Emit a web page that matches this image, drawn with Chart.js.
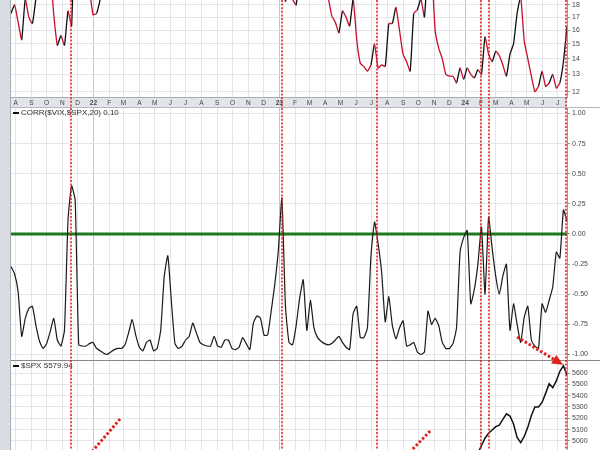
<!DOCTYPE html>
<html>
<head>
<meta charset="utf-8">
<script src="https://cdn.jsdelivr.net/npm/chart.js@4.4.1/dist/chart.umd.min.js"></script>
<style>
  html, body { margin: 0; padding: 0; background: #fff; }
  #wrap { position: relative; width: 600px; height: 450px; overflow: hidden; background: #fff; }
  #wrap canvas { position: absolute; left: 0; }
  #strip { position: absolute; left: 0; top: 0; width: 10px; height: 450px; background: #d9dce2; border-right: 1px solid #a9adb5; }
  .sep { position: absolute; left: 11px; width: 589px; height: 1px; }
</style>
</head>
<body>
<div id="wrap">
  <canvas id="vixChart" width="600" height="107" style="top:0"></canvas>
  <canvas id="corrChart" width="600" height="253" style="top:107px"></canvas>
  <canvas id="spxChart" width="600" height="90" style="top:360px"></canvas>
  <div id="strip"></div>
  <div class="sep" style="top:107px;background:#b4b8c0"></div>
  <div class="sep" style="top:360px;background:#8a8a8a"></div>
  <canvas id="overlay" width="600" height="450" style="top:0;pointer-events:none"></canvas>
</div>
<script>
// weekly closes, first week = 2021-07-23, last = 2024-07-19
const startDate = Date.UTC(2021, 6, 23);
const monthLabels = ['A','S','O','N','D','22','F','M','A','M','J','J','A','S','O','N','D','23',
                     'F','M','A','M','J','J','A','S','O','N','D','24','F','M','A','M','J','J'];

const vix = [
  17.3, 18.0, 16.6, 15.3, 18.5, 17.0, 16.5, 18.6, 20.9, 18.5,
  19.5, 21.0, 17.2, 14.9, 15.6, 14.9, 17.5, 16.3, 28.6, 30.7,
  21.0, 21.6, 19.5, 17.2, 17.3, 18.5, 28.9, 27.7, 23.2, 27.4,
  27.8, 27.6, 32.0, 30.8, 23.9, 20.8, 19.6, 21.2, 22.7, 28.2,
  33.4, 30.2, 28.9, 29.4, 25.7, 24.8, 27.8, 31.1, 27.2, 26.7,
  24.6, 24.2, 23.0, 21.3, 21.2, 19.5, 20.6, 25.6, 25.5, 22.8,
  26.3, 29.9, 31.6, 31.4, 32.0, 29.7, 25.8, 24.6, 22.5, 23.1,
  20.5, 19.1, 22.8, 22.6, 20.9, 21.7, 21.1, 18.3, 19.9, 18.5,
  18.0, 20.5, 20.0, 21.7, 19.0, 24.8, 25.5, 21.7, 19.0, 18.6,
  17.1, 16.6, 15.8, 17.5, 17.0, 16.3, 18.5, 15.3, 13.7, 13.5,
  13.2, 13.6, 15.0, 13.4, 13.6, 13.5, 16.5, 16.5, 17.8, 16.0,
  14.3, 13.8, 13.2, 17.3, 17.6, 18.5, 17.0, 21.7, 21.3, 16.0,
  14.7, 14.0, 13.0, 12.9, 12.9, 12.5, 13.4, 12.7, 13.4, 13.0,
  12.8, 13.3, 13.0, 15.5, 14.3, 13.8, 14.5, 14.2, 13.6, 12.9,
  14.3, 15.0, 17.3, 18.7, 15.2, 14.0, 12.9, 12.0, 12.3, 13.2,
  12.3, 12.5, 13.0, 12.2, 12.5, 13.8, 16.3
];

const corr = [
  -0.27, -0.33, -0.48, -0.85, -0.70, -0.62, -0.60, -0.76, -0.89, -0.95,
  -0.91, -0.81, -0.70, -0.88, -0.93, -0.80, 0.12, 0.40, 0.28, -0.92,
  -0.93, -0.93, -0.91, -0.90, -0.95, -0.97, -0.99, -1.00, -0.98, -0.96,
  -0.95, -0.95, -0.92, -0.82, -0.71, -0.84, -0.94, -0.97, -0.90, -0.88,
  -0.97, -0.95, -0.80, -0.35, -0.18, -0.56, -0.91, -0.95, -0.93, -0.88,
  -0.85, -0.74, -0.82, -0.90, -0.92, -0.93, -0.93, -0.85, -0.93, -0.94,
  -0.88, -0.88, -0.95, -0.96, -0.94, -0.86, -0.91, -0.96, -0.74, -0.68,
  -0.70, -0.84, -0.84, -0.64, -0.42, -0.14, 0.30, -0.60, -0.90, -0.92,
  -0.76, -0.53, -0.38, -0.80, -0.55, -0.78, -0.86, -0.89, -0.91, -0.92,
  -0.91, -0.88, -0.85, -0.90, -0.94, -0.96, -0.66, -0.60, -0.86, -0.86,
  -0.78, -0.18, 0.10, -0.08, -0.32, -0.73, -0.52, -0.76, -0.87, -0.78,
  -0.72, -0.93, -0.92, -0.90, -0.98, -1.00, -0.98, -0.64, -0.75, -0.70,
  -0.76, -0.90, -0.95, -0.95, -0.91, -0.78, -0.15, -0.03, 0.03, -0.58,
  -0.46, -0.25, 0.06, -0.50, 0.14, -0.12, -0.35, -0.50, -0.35, -0.25,
  -0.80, -0.58, -0.75, -0.90, -0.69, -0.60, -0.88, -0.93, -0.95, -0.58,
  -0.65, -0.55, -0.44, -0.15, -0.20, 0.20, 0.10
];

const spx = [
  4412, 4395, 4437, 4468, 4442, 4509, 4535, 4459, 4433, 4455, 4357, 4391,
  4471, 4545, 4605, 4697, 4682, 4698, 4595, 4538, 4712, 4620, 4726, 4766,
  4677, 4663, 4398, 4432, 4500, 4419, 4349, 4385, 4329, 4204, 4463, 4543,
  4546, 4488, 4393, 4272, 4132, 4123, 4024, 3901, 4158, 4109, 3901, 3675,
  3912, 3825, 3899, 3863, 3962, 4130, 4145, 4280, 4228, 4058, 3924, 4067,
  3873, 3693, 3586, 3640, 3583, 3753, 3901, 3771, 3993, 3965, 4026, 4072,
  3934, 3852, 3845, 3840,
  3895, 3999, 3973, 4071, 4136, 4090, 4079, 3970, 4046, 3862, 3917, 3971,
  4109, 4105, 4137, 4133, 4169, 4136, 4124, 4192, 4205, 4282, 4299, 4410,
  4348, 4450, 4399, 4505, 4536, 4582, 4478, 4464, 4370, 4406, 4516, 4457,
  4450, 4320, 4288, 4309, 4327, 4224, 4117, 4358, 4415, 4514, 4559, 4595,
  4604, 4719, 4755, 4770,
  4697, 4784, 4840, 4891, 4960, 5024, 5068, 5097, 5126, 5140, 5190, 5240,
  5220, 5150, 5030, 4985, 5040, 5120, 5225, 5300, 5300, 5340, 5420, 5505,
  5470, 5530, 5615, 5665, 5579.94
];

const vixTicks = [12, 13, 14, 15, 16, 17, 18];
const corrTicks = [-1, -0.75, -0.5, -0.25, 0, 0.25, 0.5, 0.75, 1];
const spxTicks = [5000, 5100, 5200, 5300, 5400, 5500, 5600];
const corrLevel = 0;

// marked dates (in weeks from start) and the hand drawn arrows
const markerWeeks = [16.7, 75.9, 102.6, 132.0, 134.0, 155.8];
const arrows = [
  { from: ['corr', 142.0, -0.855], to: ['spx', 154.9, 5672], head: true },
  { from: ['spx', 30.6, 5194], to: ['spx', 20.4, 4820], head: false },
  { from: ['spx', 117.6, 5088], to: ['spx', 109.4, 4820], head: false }
];

const FONT = '"Liberation Sans", Arial, sans-serif';
const X_MIN = 0, X_MAX = 156;
const WEEK = 7 * 86400000;
const monthTicks = monthLabels.map((l, k) => (Date.UTC(2021, 7 + k, 1) - startDate) / WEEK);
const isYear = i => /\d/.test(monthLabels[i] || '');

const pts = arr => arr.map((v, i) => ({ x: i, y: v }));

function xScale(showLabels) {
  return {
    type: 'linear', min: X_MIN, max: X_MAX,
    afterBuildTicks: s => { s.ticks = monthTicks.map(v => ({ value: v })); },
    afterFit: s => { s.height = showLabels ? 10 : 0; s.paddingLeft = 0; s.paddingRight = 0; },
    border: { display: false },
    grid: { color: ctx => isYear(ctx.index) ? '#c2c4c8' : '#e4e5e8', drawTicks: false },
    ticks: {
      display: showLabels, autoSkip: false, maxRotation: 0, padding: 2, color: '#444',
      font: ctx => ({ family: FONT, size: 6.5, weight: isYear(ctx.index) ? 'bold' : 'normal' }),
      callback: (v, i) => monthLabels[i]
    }
  };
}

function yScale(extra, ticks, fmt) {
  return Object.assign({
    position: 'right',
    afterBuildTicks: s => { s.ticks = ticks.map(v => ({ value: v })); },
    afterFit: s => { s.width = 33; s.paddingTop = 0; s.paddingBottom = 0; },
    border: { display: true, color: '#9a9a9a' },
    grid: { color: '#e4e5e8', tickLength: 3, tickColor: '#9a9a9a' },
    ticks: { color: '#444', padding: 2, font: { family: FONT, size: 7 }, callback: fmt }
  }, extra);
}

const legendPlugin = {
  id: 'panelLegend',
  afterDraw(chart, args, opts) {
    if (!opts.text) return;
    const c = chart.ctx;
    c.save();
    c.fillStyle = '#111';
    c.fillRect(13, opts.y - 1, 6, 2);
    c.fillStyle = '#333';
    c.font = '8px ' + FONT;
    c.textBaseline = 'middle';
    c.fillText(opts.text, 21, opts.y);
    c.restore();
  }
};

const bandPlugin = {
  id: 'dateBand',
  beforeDraw(chart) {
    const a = chart.chartArea, c = chart.ctx;
    c.save();
    c.fillStyle = '#e2e4e9';
    c.fillRect(a.left, a.bottom, a.right - a.left, chart.height - a.bottom);
    c.fillStyle = '#a8acb4';
    c.fillRect(a.left, a.bottom, a.right - a.left, 1);
    c.restore();
  }
};

function baseOptions(x, y, legend) {
  return {
    responsive: false, animation: false, devicePixelRatio: 1,
    layout: { padding: { left: 11, right: 0, top: 0, bottom: 0 } },
    scales: { x: x, y: y },
    elements: { point: { radius: 0 }, line: { tension: 0.15 } },
    plugins: { legend: { display: false }, tooltip: { enabled: false }, panelLegend: legend }
  };
}

const vixChart = new Chart(document.getElementById('vixChart'), {
  type: 'line',
  data: { datasets: [{
    data: pts(vix), borderWidth: 1.3, borderColor: '#c8102e',
    segment: { borderColor: ctx => ctx.p1.parsed.y > ctx.p0.parsed.y + 0.4 ? '#111' : '#c8102e' }
  }] },
  options: baseOptions(
    xScale(true),
    yScale({ type: 'logarithmic', min: 11.72, max: 18.42 }, vixTicks, v => String(v)),
    {}
  ),
  plugins: [bandPlugin, legendPlugin]
});

const corrChart = new Chart(document.getElementById('corrChart'), {
  type: 'line',
  data: { datasets: [
    { data: pts(corr), borderWidth: 1.2, borderColor: '#1a1a1a' },
    { data: [{ x: X_MIN, y: corrLevel }, { x: X_MAX, y: corrLevel }], borderWidth: 3, borderColor: '#1f7a1f' }
  ] },
  options: baseOptions(
    xScale(false),
    yScale({ type: 'linear', min: -1.046, max: 1.054 }, corrTicks, v => v.toFixed(2)),
    { text: 'CORR($VIX,$SPX,20) ' + corr[corr.length - 1].toFixed(2), y: 6 }
  ),
  plugins: [legendPlugin]
});

const spxChart = new Chart(document.getElementById('spxChart'), {
  type: 'line',
  data: { datasets: [{ data: pts(spx), borderWidth: 1.5, borderColor: '#111', tension: 0 }] },
  options: baseOptions(
    xScale(false),
    yScale({ type: 'linear', min: 4920, max: 5715 }, spxTicks, v => String(v)),
    { text: '$SPX ' + spx[spx.length - 1].toFixed(2), y: 6 }
  ),
  plugins: [legendPlugin]
});

// red markup drawn over all panels
const panels = { corr: corrChart, spx: spxChart };
const ov = document.getElementById('overlay').getContext('2d');
function toPx(p) {
  const ch = panels[p[0]];
  return [ch.scales.x.getPixelForValue(p[1]), ch.canvas.offsetTop + ch.scales.y.getPixelForValue(p[2])];
}
ov.strokeStyle = '#e0221c';
ov.fillStyle = '#e0221c';
ov.lineWidth = 1.6;
ov.setLineDash([2, 1.6]);
markerWeeks.forEach(w => {
  const xp = Math.round(corrChart.scales.x.getPixelForValue(w));
  ov.beginPath();
  ov.moveTo(xp, 0);
  ov.lineTo(xp, 450);
  ov.stroke();
});
ov.lineWidth = 3;
ov.setLineDash([2.5, 2]);
arrows.forEach(a => {
  const [x0, y0] = toPx(a.from), [x1, y1] = toPx(a.to);
  const ang = Math.atan2(y1 - y0, x1 - x0);
  const len = a.head ? 11 : 0;
  ov.beginPath();
  ov.moveTo(x0, y0);
  ov.lineTo(x1 - len * Math.cos(ang), y1 - len * Math.sin(ang));
  ov.stroke();
  if (a.head) {
    const bx = x1 - len * Math.cos(ang), by = y1 - len * Math.sin(ang), w = 5;
    ov.beginPath();
    ov.moveTo(x1, y1);
    ov.lineTo(bx + w * Math.sin(ang), by - w * Math.cos(ang));
    ov.lineTo(bx - w * Math.sin(ang), by + w * Math.cos(ang));
    ov.closePath();
    ov.fill();
  }
});
</script>
</body>
</html>
